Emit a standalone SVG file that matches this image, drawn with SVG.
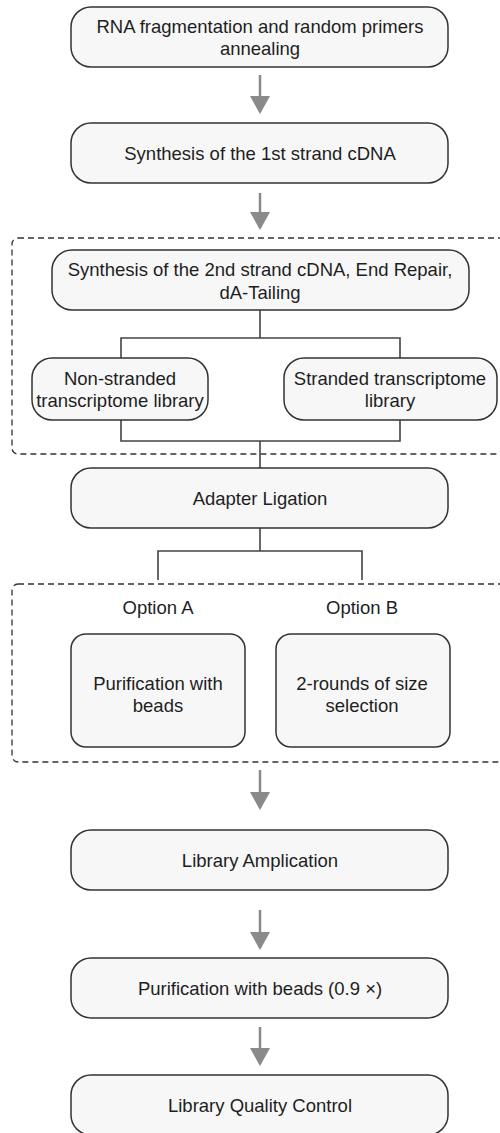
<svg xmlns="http://www.w3.org/2000/svg" width="500" height="1133" viewBox="0 0 500 1133">
<defs>
<style>
.box{fill:#f7f7f7;stroke:#333333;stroke-width:1.5}
.grp{fill:none;stroke:#333333;stroke-width:1.3;stroke-dasharray:6 4}
.t{font-family:"Liberation Sans",Arial,sans-serif;font-size:18.5px;fill:#1e1e1e;text-anchor:middle}
.con{fill:none;stroke:#444444;stroke-width:1.6}
.arr{fill:none;stroke:#8a8a8a;stroke-width:2.5}
</style>
<marker id="ah" viewBox="0 0 18 20" refX="16" refY="10" markerWidth="18" markerHeight="20" markerUnits="userSpaceOnUse" orient="auto">
<path d="M0,0 L18,10 L0,20 Z" fill="#8a8a8a"/>
</marker>
</defs>
<rect width="500" height="1133" fill="#ffffff"/>

<g id="group-library-prep">
<rect class="grp" x="12" y="238" width="500" height="216" rx="6"/>
</g>
<g id="group-options">
<rect class="grp" x="12" y="584" width="500" height="178" rx="6"/>
</g>

<g id="connectors">
<line class="arr" x1="260" y1="75" x2="260" y2="112" marker-end="url(#ah)"/>
<line class="arr" x1="260" y1="193" x2="260" y2="228" marker-end="url(#ah)"/>
<path class="con" d="M260,310 V338 M121,358 V338 H400 V358"/>
<path class="con" d="M121,420 V441 H400 V420 M260,441 V468"/>
<path class="con" d="M260,528 V551 M158,580 V551 H362 V580"/>
<line class="arr" x1="260" y1="770" x2="260" y2="808" marker-end="url(#ah)"/>
<line class="arr" x1="260" y1="910" x2="260" y2="948" marker-end="url(#ah)"/>
<line class="arr" x1="260" y1="1027" x2="260" y2="1064" marker-end="url(#ah)"/>
</g>

<g id="n1">
<rect class="box" x="71" y="7" width="377" height="60" rx="20"/>
<text class="t" x="260" y="33">RNA fragmentation and random primers</text>
<text class="t" x="260" y="55">annealing</text>
</g>
<g id="n2">
<rect class="box" x="71" y="123" width="377" height="60" rx="20"/>
<text class="t" x="260" y="160">Synthesis of the 1st strand cDNA</text>
</g>
<g id="n3">
<rect class="box" x="52" y="250" width="417" height="60" rx="20"/>
<text class="t" x="260" y="276">Synthesis of the 2nd strand cDNA, End Repair,</text>
<text class="t" x="260" y="299">dA-Tailing</text>
</g>
<g id="n4">
<rect class="box" x="32" y="358" width="176" height="62" rx="20"/>
<text class="t" x="120" y="385">Non-stranded</text>
<text class="t" x="120" y="407">transcriptome library</text>
</g>
<g id="n5">
<rect class="box" x="284" y="358" width="213" height="62" rx="20"/>
<text class="t" x="390" y="385">Stranded transcriptome</text>
<text class="t" x="390" y="407">library</text>
</g>
<g id="n6">
<rect class="box" x="71" y="468" width="377" height="60" rx="20"/>
<text class="t" x="260" y="505">Adapter Ligation</text>
</g>
<g id="labelA">
<text class="t" x="158" y="614">Option A</text>
</g>
<g id="labelB">
<text class="t" x="362" y="614">Option B</text>
</g>
<g id="n7">
<rect class="box" x="71" y="634" width="174" height="113" rx="15"/>
<text class="t" x="158" y="690">Purification with</text>
<text class="t" x="158" y="712">beads</text>
</g>
<g id="n8">
<rect class="box" x="276" y="634" width="174" height="113" rx="15"/>
<text class="t" x="362" y="690">2-rounds of size</text>
<text class="t" x="362" y="712">selection</text>
</g>
<g id="n9">
<rect class="box" x="71" y="830" width="377" height="60" rx="20"/>
<text class="t" x="260" y="867">Library Amplication</text>
</g>
<g id="n10">
<rect class="box" x="71" y="958" width="377" height="60" rx="20"/>
<text class="t" x="260" y="995">Purification with beads (0.9 ×)</text>
</g>
<g id="n11">
<rect class="box" x="71" y="1075" width="377" height="60" rx="20"/>
<text class="t" x="260" y="1112">Library Quality Control</text>
</g>
</svg>
